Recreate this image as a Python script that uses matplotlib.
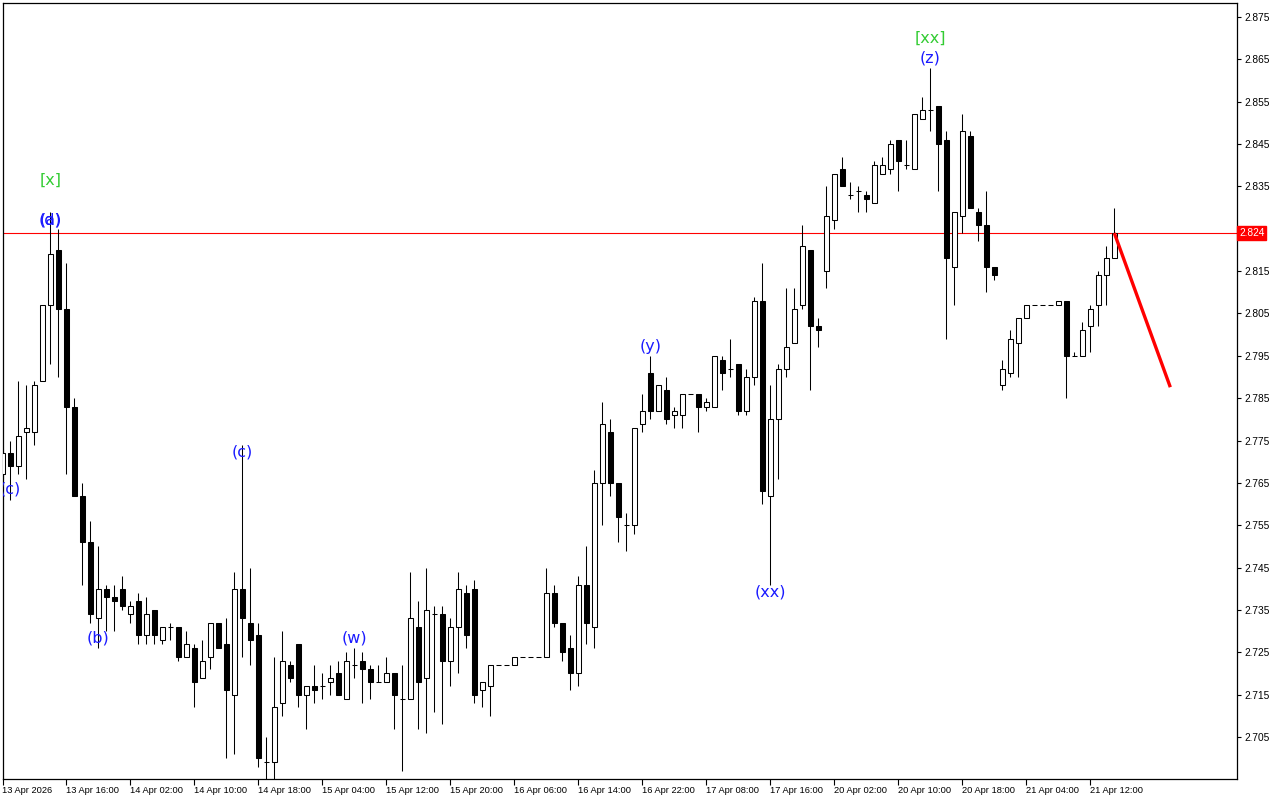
import matplotlib
matplotlib.use("Agg")
import matplotlib.pyplot as plt
import matplotlib.transforms as mtransforms
import numpy as np

# H1 candles (price, 3 decimals)
opens = [2.767, 2.772, 2.769, 2.777, 2.777, 2.789, 2.807, 2.820, 2.806, 2.783,
         2.762, 2.751, 2.733, 2.740, 2.738, 2.740, 2.734, 2.737, 2.729, 2.735,
         2.728, 2.731, 2.731, 2.724, 2.726, 2.719, 2.724, 2.732, 2.727, 2.715,
         2.740, 2.732, 2.729, 2.699, 2.699, 2.713, 2.722, 2.727, 2.715, 2.717,
         2.717, 2.718, 2.720, 2.714, 2.722, 2.723, 2.721, 2.718, 2.718, 2.720,
         2.714, 2.714, 2.731, 2.719, 2.734, 2.734, 2.723, 2.731, 2.739, 2.740,
         2.716, 2.717, 2.722, 2.722, 2.722, 2.724, 2.724, 2.724, 2.724, 2.739,
         2.732, 2.726, 2.720, 2.741, 2.731, 2.765, 2.777, 2.765, 2.755, 2.755,
         2.779, 2.791, 2.782, 2.787, 2.781, 2.781, 2.786, 2.786, 2.783, 2.783,
         2.794, 2.792, 2.793, 2.782, 2.790, 2.808, 2.762, 2.780, 2.792, 2.798,
         2.807, 2.820, 2.802, 2.815, 2.827, 2.839, 2.833, 2.834, 2.833, 2.831,
         2.838, 2.839, 2.846, 2.840, 2.839, 2.851, 2.853, 2.854, 2.846, 2.816,
         2.828, 2.847, 2.829, 2.826, 2.816, 2.788, 2.791, 2.798, 2.804, 2.807,
         2.807, 2.807, 2.807, 2.808, 2.795, 2.795, 2.802, 2.807, 2.814, 2.818]
highs = [2.773, 2.775, 2.789, 2.788, 2.789, 2.807, 2.829, 2.825, 2.817, 2.785,
         2.765, 2.756, 2.750, 2.741, 2.741, 2.743, 2.737, 2.739, 2.738, 2.735,
         2.731, 2.732, 2.731, 2.730, 2.727, 2.728, 2.732, 2.732, 2.733, 2.744,
         2.774, 2.745, 2.732, 2.705, 2.724, 2.730, 2.723, 2.727, 2.717, 2.722,
         2.720, 2.722, 2.723, 2.725, 2.726, 2.725, 2.722, 2.722, 2.724, 2.720,
         2.722, 2.744, 2.737, 2.745, 2.736, 2.736, 2.733, 2.744, 2.741, 2.742,
         2.718, 2.722, 2.722, 2.722, 2.724, 2.724, 2.724, 2.724, 2.745, 2.741,
         2.732, 2.729, 2.743, 2.750, 2.768, 2.784, 2.780, 2.765, 2.758, 2.778,
         2.786, 2.795, 2.788, 2.790, 2.783, 2.786, 2.786, 2.786, 2.785, 2.795,
         2.795, 2.799, 2.793, 2.792, 2.809, 2.817, 2.788, 2.793, 2.811, 2.811,
         2.826, 2.820, 2.804, 2.835, 2.838, 2.842, 2.836, 2.835, 2.834, 2.841,
         2.842, 2.846, 2.846, 2.846, 2.852, 2.856, 2.863, 2.854, 2.848, 2.829,
         2.852, 2.848, 2.830, 2.834, 2.816, 2.794, 2.801, 2.804, 2.807, 2.807,
         2.807, 2.807, 2.808, 2.808, 2.796, 2.803, 2.807, 2.815, 2.821, 2.830]
lows = [2.766, 2.761, 2.767, 2.766, 2.774, 2.789, 2.793, 2.790, 2.767, 2.762,
        2.741, 2.732, 2.726, 2.730, 2.730, 2.735, 2.732, 2.727, 2.727, 2.727,
        2.727, 2.728, 2.723, 2.724, 2.712, 2.719, 2.721, 2.726, 2.700, 2.701,
        2.724, 2.722, 2.698, 2.690, 2.693, 2.710, 2.718, 2.712, 2.707, 2.713,
        2.714, 2.715, 2.715, 2.714, 2.719, 2.713, 2.714, 2.718, 2.718, 2.707,
        2.697, 2.714, 2.707, 2.706, 2.711, 2.708, 2.717, 2.720, 2.726, 2.713,
        2.712, 2.710, 2.722, 2.722, 2.722, 2.724, 2.724, 2.724, 2.724, 2.731,
        2.723, 2.716, 2.717, 2.727, 2.726, 2.755, 2.762, 2.751, 2.749, 2.753,
        2.777, 2.780, 2.782, 2.779, 2.778, 2.778, 2.786, 2.777, 2.782, 2.783,
        2.787, 2.790, 2.781, 2.781, 2.788, 2.760, 2.741, 2.766, 2.790, 2.798,
        2.806, 2.787, 2.797, 2.811, 2.825, 2.835, 2.832, 2.829, 2.829, 2.831,
        2.838, 2.838, 2.834, 2.839, 2.839, 2.851, 2.848, 2.834, 2.799, 2.807,
        2.824, 2.830, 2.822, 2.810, 2.813, 2.787, 2.790, 2.790, 2.804, 2.807,
        2.807, 2.807, 2.807, 2.785, 2.795, 2.795, 2.796, 2.802, 2.807, 2.818]
closes = [2.772, 2.769, 2.776, 2.778, 2.788, 2.807, 2.819, 2.806, 2.783, 2.762,
          2.751, 2.734, 2.740, 2.738, 2.737, 2.736, 2.736, 2.729, 2.734, 2.729,
          2.731, 2.731, 2.724, 2.727, 2.718, 2.723, 2.732, 2.726, 2.716, 2.740,
          2.733, 2.728, 2.700, 2.699, 2.712, 2.723, 2.719, 2.715, 2.717, 2.716,
          2.717, 2.719, 2.715, 2.723, 2.722, 2.721, 2.718, 2.718, 2.720, 2.715,
          2.714, 2.733, 2.718, 2.735, 2.734, 2.723, 2.731, 2.740, 2.729, 2.715,
          2.718, 2.722, 2.722, 2.722, 2.724, 2.724, 2.724, 2.724, 2.739, 2.732,
          2.725, 2.720, 2.741, 2.732, 2.765, 2.779, 2.765, 2.757, 2.755, 2.778,
          2.782, 2.782, 2.788, 2.780, 2.782, 2.786, 2.786, 2.783, 2.784, 2.795,
          2.791, 2.792, 2.782, 2.790, 2.808, 2.763, 2.780, 2.792, 2.797, 2.806,
          2.821, 2.802, 2.801, 2.828, 2.838, 2.835, 2.833, 2.834, 2.832, 2.840,
          2.840, 2.845, 2.841, 2.840, 2.852, 2.853, 2.853, 2.845, 2.818, 2.829,
          2.848, 2.830, 2.826, 2.816, 2.814, 2.792, 2.799, 2.804, 2.807, 2.807,
          2.807, 2.807, 2.808, 2.795, 2.795, 2.801, 2.806, 2.814, 2.818, 2.824]

time_labels = ["13 Apr 2026", "13 Apr 16:00", "14 Apr 02:00", "14 Apr 10:00",
               "14 Apr 18:00", "15 Apr 04:00", "15 Apr 12:00", "15 Apr 20:00",
               "16 Apr 06:00", "16 Apr 14:00", "16 Apr 22:00", "17 Apr 08:00",
               "17 Apr 16:00", "20 Apr 02:00", "20 Apr 10:00", "20 Apr 18:00",
               "21 Apr 04:00", "21 Apr 12:00"]
price_ticks = [2.705, 2.715, 2.725, 2.735, 2.745, 2.755, 2.765, 2.775, 2.785,
               2.795, 2.805, 2.815, 2.825, 2.835, 2.845, 2.855, 2.865, 2.875]

current_price = 2.824
# projected move: from last bar to 7 bars later
proj_bars = [139, 146]
proj_prices = [2.824, 2.7876]

# wave labels: text, bar index, price, colour
wave_labels = [
    ("[x]", 6, 2.8365, "#33cc33"),
    ("(a)", 6, 2.8271, "#1a1aff"),
    ("(d)", 6, 2.8271, "#1a1aff"),
    ("(c)", 1, 2.7636, "#1a1aff"),
    ("(b)", 12, 2.7284, "#1a1aff"),
    ("(c)", 30, 2.7723, "#1a1aff"),
    ("(w)", 44, 2.7284, "#1a1aff"),
    ("(x)", 50, 2.6930, "#1a1aff"),
    ("(y)", 81, 2.7971, "#1a1aff"),
    ("(xx)", 96, 2.7392, "#1a1aff"),
    ("[xx]", 116, 2.8700, "#33cc33"),
    ("(z)", 116, 2.8653, "#1a1aff"),
]

o = np.array(opens)
h = np.array(highs)
l = np.array(lows)
c = np.array(closes)
x = np.arange(len(o))

fig = plt.figure(figsize=(12.8, 8), dpi=100)
ax = fig.add_axes([2.5 / 1280, 21 / 800, (1237 - 2.5) / 1280, 776 / 800])

lw = 0.75
ax.vlines(x, l, h, color="black", lw=lw, zorder=2)

up = c > o
dn = c < o
flat = c == o
ax.bar(x[up], (c - o)[up], bottom=o[up], width=0.55, facecolor="white",
       edgecolor="black", linewidth=lw, zorder=3)
ax.bar(x[dn], (o - c)[dn], bottom=c[dn], width=0.55, facecolor="black",
       edgecolor="black", linewidth=lw, zorder=3)
ax.hlines(c[flat], x[flat] - 0.32, x[flat] + 0.32, color="black", lw=lw, zorder=3)

# current price line + projection
ax.axhline(current_price, color="#ff0000", lw=0.8, zorder=1)
ax.plot(proj_bars, proj_prices, color="#ff0000", lw=2.4, zorder=4,
        solid_capstyle="butt")

for txt, bi, py, col in wave_labels:
    ax.text(bi, py, txt, color=col, fontsize=11.5, ha="center", va="center",
            family="DejaVu Sans", zorder=5, clip_on=True)

ax.set_xlim((2.5 - 2.3) / 8, (1237 - 2.3) / 8)
ax.set_ylim(2.69509, 2.87831)

ax.set_xticks(np.arange(0, len(time_labels) * 8, 8))
ax.set_xticklabels(time_labels, fontsize=6.7, family="Liberation Sans")
for lbl in ax.get_xticklabels():
    lbl.set_horizontalalignment("left")
    lbl.set_transform(lbl.get_transform() +
                      mtransforms.ScaledTranslation(2 / 100, 0, fig.dpi_scale_trans))
ax.tick_params(axis="x", direction="out", length=4, width=0.8, pad=1)

# the tick nearest the current price gives way to the price box
ylabels = ["" if abs(p - current_price) < 0.002 else "%.3f" % p for p in price_ticks]
ax.yaxis.tick_right()
ax.set_yticks(price_ticks)
ax.set_yticklabels(ylabels, fontsize=7.3, family="Liberation Sans")
ax.tick_params(axis="y", direction="out", length=3, width=0.8, pad=2)

for sp in ax.spines.values():
    sp.set_color("black")
    sp.set_linewidth(0.9)

trans = mtransforms.blended_transform_factory(ax.transAxes, ax.transData)
ax.text(1.0018, current_price, "%.3f" % current_price, transform=trans,
        color="white", fontsize=7.3, family="Liberation Sans", ha="left",
        va="center", clip_on=False,
        bbox=dict(boxstyle="square,pad=0.18", facecolor="#ff0000",
                  edgecolor="#ff0000"))

fig.savefig("out.png", dpi=100)
